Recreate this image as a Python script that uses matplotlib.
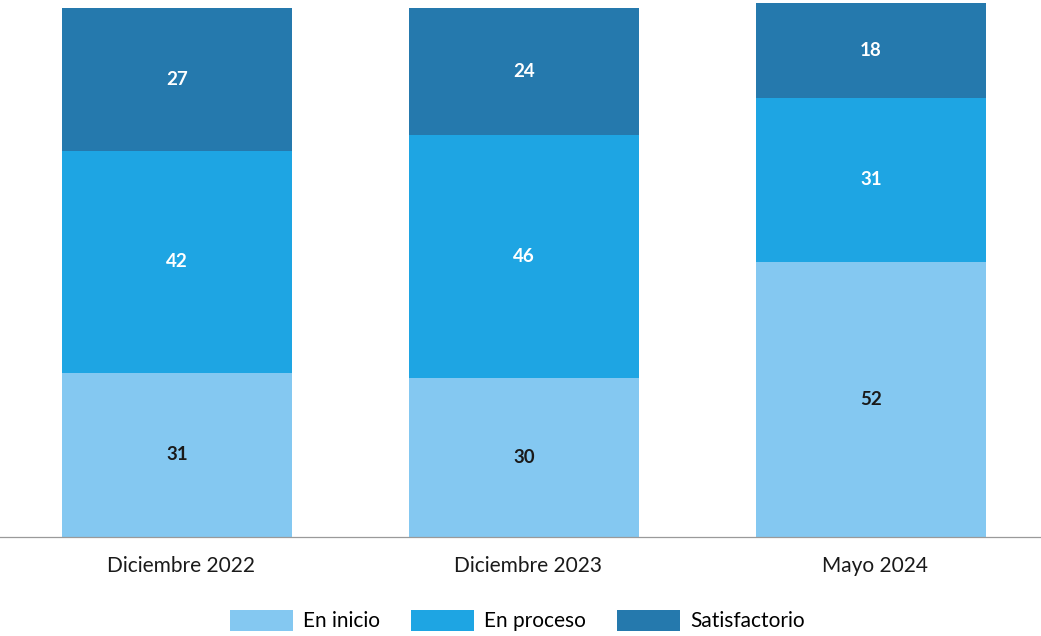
import matplotlib
matplotlib.use("Agg")
import matplotlib.pyplot as plt

categories = ["Diciembre 2022", "Diciembre 2023", "Mayo 2024"]
en_inicio = [31, 30, 52]
en_proceso = [42, 46, 31]
satisfactorio = [27, 24, 18]
series_names = ["En inicio", "En proceso", "Satisfactorio"]

colors = ["#84c8f1", "#1ea5e3", "#2579ad"]
text_colors = ["#1a1a1a", "white", "white"]

plt.rcParams["font.family"] = ["Lato", "DejaVu Sans"]

fig = plt.figure(figsize=(10.41, 6.36), dpi=100)
ax = fig.add_axes([0, 0.1557, 1, 0.8443])

x = list(range(len(categories)))
bottom = [0] * len(categories)
for vals, name, c, tc in zip([en_inicio, en_proceso, satisfactorio], series_names, colors, text_colors):
    ax.bar(x, vals, width=0.665, bottom=bottom, color=c, label=name, zorder=2)
    for xi, v, b in zip(x, vals, bottom):
        ax.text(xi, b + v / 2, str(v), ha="center", va="center", color=tc,
                fontsize=13.5, fontweight="bold", zorder=3)
    bottom = [b + v for b, v in zip(bottom, vals)]

ax.set_xlim(-0.51, 2.49)
ax.set_ylim(0, 101.5)
ax.set_xticks([xi + 0.012 for xi in x])
ax.set_xticklabels(categories, fontsize=15, color="#1a1a1a")
ax.tick_params(axis="x", length=0, pad=14)
ax.set_yticks([])
for s in ["top", "right", "left"]:
    ax.spines[s].set_visible(False)
ax.spines["bottom"].set_color("#9a9a9a")
ax.spines["bottom"].set_linewidth(0.9)

fig.legend(loc="lower center", bbox_to_anchor=(0.497, -0.022), ncol=3, frameon=False,
           fontsize=15, handlelength=3.0, handleheight=1.2, columnspacing=1.5,
           handletextpad=0.5)

fig.savefig("out.png", dpi=100, facecolor="white")
